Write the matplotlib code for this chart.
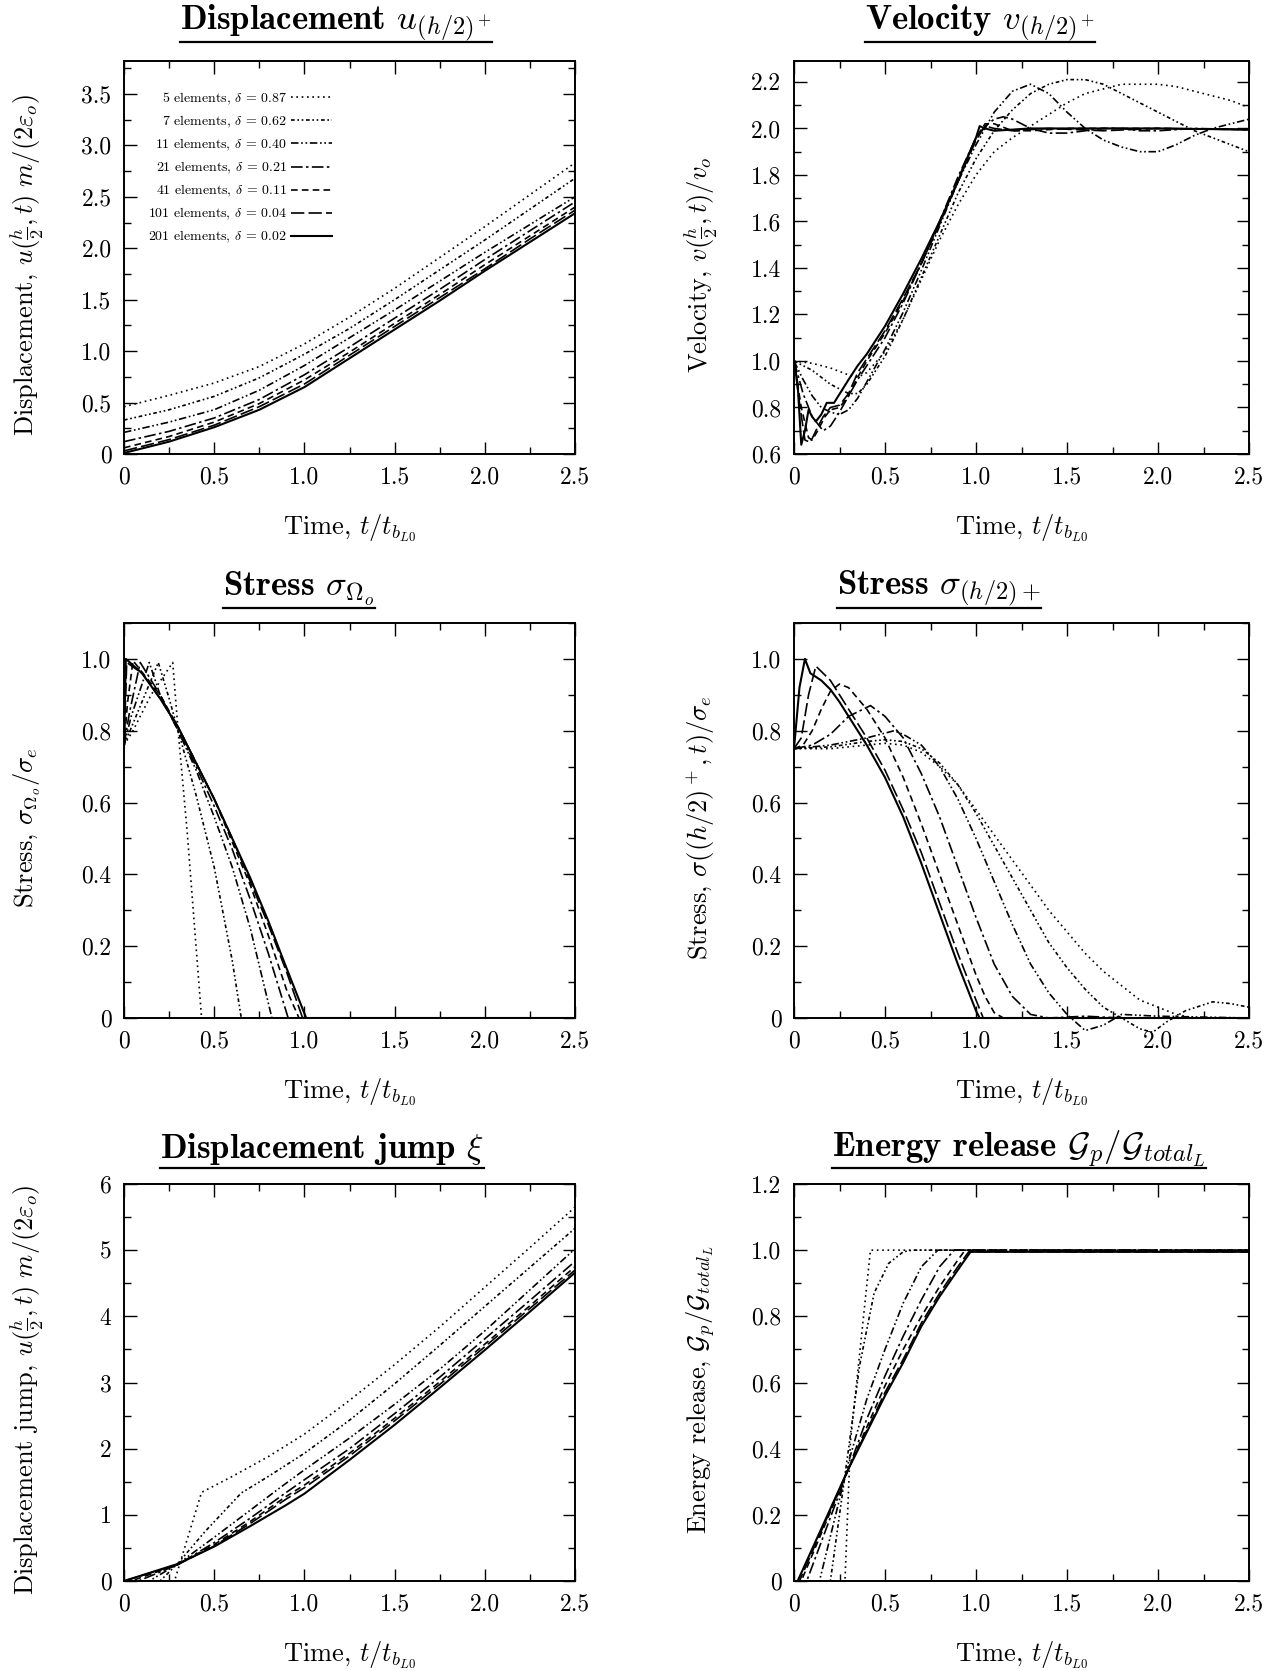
import matplotlib.pyplot as plt
from matplotlib.lines import Line2D
from matplotlib.ticker import MultipleLocator

plt.rcParams['font.family'] = 'cmr10'
plt.rcParams['mathtext.fontset'] = 'cm'
plt.rcParams['axes.formatter.use_mathtext'] = True

# legend entries (coarse -> fine mesh)
legend_labels = [r'5 elements, $\delta\,=\,0.87$', r'7 elements, $\delta\,=\,0.62$',
                 r'11 elements, $\delta\,=\,0.40$', r'21 elements, $\delta\,=\,0.21$',
                 r'41 elements, $\delta\,=\,0.11$', r'101 elements, $\delta\,=\,0.04$',
                 r'201 elements, $\delta\,=\,0.02$']

# ---- displacement u(h/2)+ ----
t_disp = [0, 0.25, 0.5, 0.75, 1.0, 1.25, 1.5, 1.75, 2.0, 2.25, 2.5]
disp_vals = [
    [0.46, 0.57, 0.69, 0.85, 1.07, 1.33, 1.61, 1.91, 2.21, 2.52, 2.83],
    [0.33, 0.43, 0.56, 0.74, 0.97, 1.22, 1.50, 1.79, 2.08, 2.38, 2.68],
    [0.21, 0.31, 0.43, 0.62, 0.86, 1.13, 1.40, 1.68, 1.96, 2.23, 2.50],
    [0.12, 0.22, 0.35, 0.53, 0.77, 1.04, 1.32, 1.60, 1.89, 2.17, 2.45],
    [0.06, 0.17, 0.31, 0.49, 0.72, 0.99, 1.27, 1.55, 1.84, 2.12, 2.40],
    [0.03, 0.14, 0.28, 0.46, 0.68, 0.96, 1.24, 1.52, 1.80, 2.09, 2.37],
    [0.01, 0.12, 0.26, 0.43, 0.65, 0.93, 1.21, 1.49, 1.78, 2.06, 2.34],
]

# ---- velocity v(h/2)+ ----
vel_t = [
    [0, 0.1, 0.2, 0.3, 0.35, 0.4, 0.5, 0.6, 0.7, 0.8, 0.9, 1.0, 1.1, 1.2, 1.3, 1.4, 1.5,
     1.6, 1.7, 1.8, 1.9, 2.0, 2.1, 2.2, 2.3, 2.4, 2.5],
    [0, 0.1, 0.2, 0.3, 0.35, 0.4, 0.5, 0.6, 0.7, 0.8, 0.9, 1.0, 1.1, 1.2, 1.3, 1.4, 1.5,
     1.6, 1.7, 1.8, 1.9, 2.0, 2.1, 2.2, 2.3, 2.4, 2.5],
    [0, 0.05, 0.1, 0.15, 0.2, 0.25, 0.3, 0.35, 0.4, 0.5, 0.6, 0.7, 0.8, 0.9, 1.0, 1.1,
     1.2, 1.3, 1.4, 1.5, 1.6, 1.7, 1.8, 1.9, 2.0, 2.1, 2.2, 2.3, 2.4, 2.5],
    [0, 0.05, 0.1, 0.16, 0.2, 0.25, 0.3, 0.35, 0.4, 0.5, 0.6, 0.7, 0.8, 0.9, 1.0, 1.05,
     1.1, 1.15, 1.2, 1.3, 1.4, 1.5, 1.6, 1.7, 1.8, 1.9, 2.0, 2.2, 2.5],
    [0, 0.04, 0.08, 0.1, 0.13, 0.17, 0.2, 0.25, 0.3, 0.35, 0.4, 0.5, 0.6, 0.7, 0.8, 0.9,
     1.0, 1.05, 1.1, 1.2, 1.3, 1.5, 1.7, 2.0, 2.5],
    [0, 0.03, 0.06, 0.09, 0.12, 0.16, 0.2, 0.25, 0.3, 0.35, 0.4, 0.5, 0.6, 0.7, 0.8, 0.9,
     0.95, 1.0, 1.05, 1.1, 1.2, 1.4, 1.7, 2.0, 2.5],
    [0, 0.02, 0.04, 0.06, 0.08, 0.1, 0.12, 0.15, 0.18, 0.22, 0.26, 0.3, 0.35, 0.4, 0.5,
     0.6, 0.7, 0.8, 0.9, 0.95, 1.0, 1.02, 1.05, 1.1, 1.3, 1.6, 2.0, 2.5],
]
vel_vals = [
    [1.0, 0.99, 0.97, 0.94, 0.93, 0.95, 1.04, 1.18, 1.35, 1.52, 1.67, 1.80, 1.90, 1.96,
     2.01, 2.06, 2.11, 2.15, 2.17, 2.19, 2.19, 2.19, 2.18, 2.16, 2.14, 2.12, 2.09],
    [1.0, 0.96, 0.90, 0.86, 0.86, 0.90, 1.02, 1.18, 1.36, 1.54, 1.72, 1.87, 1.99, 2.08,
     2.15, 2.19, 2.21, 2.21, 2.19, 2.15, 2.11, 2.07, 2.03, 1.99, 1.96, 1.93, 1.90],
    [1.0, 0.92, 0.85, 0.80, 0.78, 0.77, 0.79, 0.84, 0.91, 1.05, 1.21, 1.39, 1.58, 1.77,
     1.93, 2.07, 2.16, 2.19, 2.15, 2.07, 2.00, 1.95, 1.92, 1.90, 1.90, 1.93, 1.97, 2.00,
     2.02, 2.04],
    [1.0, 0.86, 0.76, 0.70, 0.72, 0.78, 0.85, 0.92, 0.98, 1.10, 1.25, 1.42, 1.60, 1.79,
     1.96, 2.01, 2.04, 2.05, 2.04, 2.00, 1.98, 1.98, 1.99, 2.0, 2.0, 1.99, 1.99, 2.0, 1.995],
    [1.0, 0.80, 0.67, 0.66, 0.70, 0.76, 0.79, 0.80, 0.85, 0.93, 1.0, 1.12, 1.26, 1.42,
     1.59, 1.78, 1.96, 2.02, 2.02, 1.99, 1.99, 2.0, 2.0, 2.0, 1.995],
    [1.0, 0.82, 0.66, 0.65, 0.70, 0.76, 0.80, 0.81, 0.86, 0.95, 1.01, 1.13, 1.27, 1.42,
     1.59, 1.77, 1.86, 1.95, 2.01, 2.0, 1.99, 2.0, 1.99, 2.0, 1.995],
    [1.0, 0.9, 0.64, 0.70, 0.79, 0.76, 0.74, 0.77, 0.82, 0.82, 0.87, 0.92, 0.98, 1.03,
     1.15, 1.29, 1.44, 1.60, 1.77, 1.87, 1.96, 2.01, 2.00, 1.99, 2.0, 2.0, 2.0, 1.995],
]

# ---- stress at Omega_o ----
so_t = [
    [0, 0.05, 0.15, 0.27, 0.30, 0.35, 0.43, 2.5],
    [0, 0.05, 0.19, 0.25, 0.3, 0.4, 0.5, 0.6, 0.65, 2.5],
    [0, 0.04, 0.14, 0.2, 0.3, 0.4, 0.5, 0.6, 0.7, 0.82, 2.5],
    [0, 0.03, 0.09, 0.2, 0.3, 0.4, 0.5, 0.6, 0.7, 0.8, 0.91, 2.5],
    [0, 0.02, 0.05, 0.2, 0.3, 0.4, 0.5, 0.6, 0.7, 0.8, 0.9, 0.97, 2.5],
    [0, 0.015, 0.1, 0.2, 0.3, 0.4, 0.5, 0.6, 0.7, 0.8, 0.9, 0.99, 2.5],
    [0, 0.01, 0.1, 0.2, 0.3, 0.4, 0.5, 0.6, 0.7, 0.8, 0.9, 1.01, 2.5],
]
so_vals = [
    [0.76, 0.80, 0.90, 0.99, 0.80, 0.52, 0.0, 0.0],
    [0.76, 0.82, 0.99, 0.89, 0.80, 0.62, 0.42, 0.16, 0.0, 0.0],
    [0.76, 0.84, 0.99, 0.90, 0.80, 0.69, 0.56, 0.42, 0.25, 0.0, 0.0],
    [0.76, 0.85, 0.99, 0.90, 0.80, 0.70, 0.59, 0.47, 0.33, 0.18, 0.0, 0.0],
    [0.76, 0.88, 0.995, 0.90, 0.81, 0.71, 0.61, 0.49, 0.37, 0.23, 0.08, 0.0, 0.0],
    [0.75, 0.99, 0.96, 0.89, 0.81, 0.71, 0.61, 0.50, 0.38, 0.26, 0.13, 0.0, 0.0],
    [0.75, 1.0, 0.96, 0.89, 0.81, 0.71, 0.61, 0.50, 0.39, 0.27, 0.14, 0.0, 0.0],
]

# ---- stress at (h/2)+ ----
sh_t = [
    [0, 0.2, 0.4, 0.5, 0.6, 0.7, 0.8, 0.9, 1.0, 1.1, 1.2, 1.3, 1.4, 1.5, 1.6, 1.7, 1.8,
     1.9, 2.0, 2.1, 2.2, 2.35, 2.5],
    [0, 0.2, 0.4, 0.5, 0.6, 0.7, 0.8, 0.9, 1.0, 1.1, 1.2, 1.3, 1.4, 1.5, 1.6, 1.7, 1.8,
     1.9, 1.97, 2.05, 2.15, 2.3, 2.4, 2.5],
    [0, 0.2, 0.4, 0.55, 0.6, 0.7, 0.8, 0.9, 1.0, 1.1, 1.2, 1.3, 1.4, 1.5, 1.6, 1.7, 1.8,
     2.0, 2.5],
    [0, 0.1, 0.2, 0.3, 0.42, 0.5, 0.6, 0.7, 0.8, 0.9, 1.0, 1.1, 1.2, 1.3, 1.4, 1.6, 1.8,
     2.5],
    [0, 0.05, 0.1, 0.15, 0.2, 0.25, 0.3, 0.4, 0.5, 0.6, 0.7, 0.8, 0.9, 1.0, 1.05, 1.1,
     1.15, 2.5],
    [0, 0.04, 0.08, 0.12, 0.16, 0.2, 0.25, 0.3, 0.4, 0.5, 0.6, 0.7, 0.8, 0.9, 1.0, 1.04,
     2.5],
    [0, 0.03, 0.06, 0.09, 0.12, 0.15, 0.2, 0.25, 0.3, 0.4, 0.5, 0.6, 0.7, 0.8, 0.9, 1.0,
     1.02, 2.5],
]
sh_vals = [
    [0.75, 0.75, 0.76, 0.765, 0.76, 0.74, 0.70, 0.65, 0.58, 0.51, 0.44, 0.37, 0.30, 0.24,
     0.18, 0.13, 0.09, 0.05, 0.03, 0.01, 0.0, 0.0, 0.0],
    [0.75, 0.755, 0.77, 0.775, 0.77, 0.75, 0.71, 0.65, 0.57, 0.48, 0.39, 0.30, 0.21, 0.14,
     0.08, 0.03, 0.0, -0.03, -0.04, -0.01, 0.02, 0.045, 0.04, 0.03],
    [0.75, 0.76, 0.78, 0.80, 0.79, 0.76, 0.70, 0.61, 0.50, 0.38, 0.26, 0.15, 0.07, 0.01,
     -0.035, -0.02, 0.01, 0.005, 0.0],
    [0.75, 0.76, 0.79, 0.84, 0.87, 0.84, 0.78, 0.68, 0.56, 0.42, 0.28, 0.15, 0.06, 0.01,
     0.0, 0.005, 0.0, 0.0],
    [0.75, 0.76, 0.80, 0.86, 0.91, 0.93, 0.92, 0.86, 0.78, 0.67, 0.54, 0.40, 0.26, 0.12,
     0.06, 0.015, 0.0, 0.0],
    [0.75, 0.78, 0.9, 0.98, 0.96, 0.94, 0.90, 0.86, 0.78, 0.69, 0.58, 0.46, 0.32, 0.18,
     0.05, 0.0, 0.0],
    [0.75, 0.92, 1.0, 0.96, 0.95, 0.94, 0.915, 0.88, 0.84, 0.76, 0.67, 0.56, 0.43, 0.29,
     0.15, 0.02, 0.0, 0.0],
]

# ---- displacement jump xi ----
xi_t = [
    [0, 0.28, 0.43, 0.6, 0.8, 1.0, 1.25, 1.5, 1.75, 2.0, 2.25, 2.5],
    [0, 0.2, 0.3, 0.45, 0.65, 0.8, 1.0, 1.25, 1.5, 1.75, 2.0, 2.25, 2.5],
    [0, 0.14, 0.3, 0.5, 0.7, 0.85, 1.0, 1.25, 1.5, 1.75, 2.0, 2.25, 2.5],
    [0, 0.08, 0.3, 0.5, 0.7, 0.9, 1.0, 1.25, 1.5, 1.75, 2.0, 2.25, 2.5],
    [0, 0.04, 0.3, 0.5, 0.7, 0.9, 1.0, 1.25, 1.5, 1.75, 2.0, 2.25, 2.5],
    [0, 0.3, 0.5, 0.7, 0.9, 1.0, 1.25, 1.5, 1.75, 2.0, 2.25, 2.5],
    [0, 0.3, 0.5, 0.7, 0.9, 1.0, 1.25, 1.5, 1.75, 2.0, 2.25, 2.5],
]
xi_vals = [
    [0, 0, 1.34, 1.58, 1.88, 2.22, 2.73, 3.27, 3.84, 4.44, 5.04, 5.65],
    [0, 0, 0.27, 0.75, 1.33, 1.58, 1.93, 2.43, 2.98, 3.56, 4.15, 4.74, 5.33],
    [0, 0, 0.26, 0.66, 1.07, 1.38, 1.68, 2.16, 2.67, 3.20, 3.78, 4.40, 5.02],
    [0, 0, 0.25, 0.58, 0.95, 1.34, 1.53, 2.00, 2.53, 3.08, 3.66, 4.24, 4.83],
    [0, 0, 0.25, 0.55, 0.90, 1.28, 1.45, 1.93, 2.46, 3.01, 3.58, 4.16, 4.75],
    [0, 0.25, 0.53, 0.87, 1.24, 1.41, 1.89, 2.42, 2.97, 3.54, 4.12, 4.70],
    [0, 0.26, 0.52, 0.83, 1.15, 1.32, 1.83, 2.36, 2.92, 3.49, 4.07, 4.66],
]

# ---- energy release G_p / G_total ----
en_t = [
    [0, 0.28, 0.31, 0.42, 2.5],
    [0, 0.2, 0.3, 0.36, 0.44, 0.52, 0.6, 0.65, 2.5],
    [0, 0.14, 0.3, 0.4, 0.5, 0.6, 0.7, 0.79, 2.5],
    [0, 0.07, 0.3, 0.4, 0.5, 0.6, 0.7, 0.8, 0.88, 2.5],
    [0, 0.04, 0.3, 0.5, 0.6, 0.7, 0.8, 0.9, 0.94, 2.5],
    [0, 0.03, 0.3, 0.5, 0.6, 0.7, 0.8, 0.9, 0.96, 2.5],
    [0, 0.02, 0.3, 0.5, 0.6, 0.7, 0.8, 0.9, 0.97, 2.5],
]
en_vals = [
    [0, 0, 0.42, 1.0, 1.0],
    [0, 0, 0.40, 0.65, 0.87, 0.96, 0.995, 1.0, 1.0],
    [0, 0, 0.36, 0.55, 0.70, 0.84, 0.95, 1.0, 1.0],
    [0, 0, 0.34, 0.49, 0.62, 0.74, 0.85, 0.95, 1.0, 1.0],
    [0, 0, 0.34, 0.59, 0.70, 0.80, 0.89, 0.97, 1.0, 1.0],
    [0, 0, 0.34, 0.57, 0.67, 0.78, 0.87, 0.95, 0.995, 0.995],
    [0, 0, 0.34, 0.56, 0.66, 0.77, 0.86, 0.94, 0.995, 0.995],
]

styles = [(0, (1, 2.2)), (0, (2.2, 1.6, 1, 1.6, 1, 1.6)), (0, (4.5, 1.6, 1, 1.6, 1, 1.6)),
          (0, (7, 2, 1.5, 2)), (0, (4, 2.5)), (0, (8, 2.5)), '-']
widths = [1.2, 1.2, 1.2, 1.2, 1.2, 1.2, 1.5]

W, H = 1272, 1671
fig = plt.figure(figsize=(W / 100, H / 100), dpi=100)

# axes boxes in pixels: left, top, right, bottom
boxes = [(124, 61, 575, 454), (794, 61, 1249, 454),
         (124, 623, 575, 1018), (794, 623, 1249, 1018),
         (124, 1184, 575, 1581), (794, 1184, 1249, 1581)]
axes = []
for l, t, r, b in boxes:
    axes.append(fig.add_axes([l / W, 1 - b / H, (r - l) / W, (b - t) / H]))

xlab = r'Time, $t/t_{b_{L0}}$'
ylabs = [r'Displacement, $u(\frac{h}{2},t)\ m/(2\varepsilon_o)$',
         r'Velocity, $v(\frac{h}{2},t)/v_o$',
         r'Stress, $\sigma_{\Omega_o}/\sigma_e$',
         r'Stress, $\sigma((h/2)^+,t)/\sigma_e$',
         r'Displacement jump, $u(\frac{h}{2},t)\ m/(2\varepsilon_o)$',
         r'Energy release, $\mathcal{G}_p/\mathcal{G}_{total_L}$']
titles = [r'Displacement $u_{(h/2)^+}$', r'Velocity $v_{(h/2)^+}$',
          r'Stress $\sigma_{\Omega_o}$', r'Stress $\sigma_{(h/2)+}$',
          r'Displacement jump $\xi$', r'Energy release $\mathcal{G}_p/\mathcal{G}_{total_L}$']
title_pos = [(336, 23), (980, 23), (299, 589), (939, 589), (322, 1149), (1019, 1149)]
ylims = [(0, 3.82), (0.6, 2.29), (0, 1.1), (0, 1.1), (0, 6), (0, 1.2)]
ymajor = [0.5, 0.2, 0.2, 0.2, 1, 0.2]
yminor = [0.25, 0.1, 0.1, 0.1, 0.5, 0.1]
yfmt = ['{:.1f}', '{:.1f}', '{:.1f}', '{:.1f}', '{:.0f}', '{:.1f}']

data = [(None, disp_vals), (vel_t, vel_vals), (so_t, so_vals),
        (sh_t, sh_vals), (xi_t, xi_vals), (en_t, en_vals)]

for i, ax in enumerate(axes):
    ts, vals = data[i]
    for k in range(7):
        tt = t_disp if ts is None else ts[k]
        ax.plot(tt, vals[k], color='black', linestyle=styles[k], lw=widths[k],
                label=legend_labels[k], clip_on=(i != 3))
    ax.set_xlim(0, 2.5)
    ax.set_ylim(*ylims[i])
    ax.xaxis.set_major_locator(MultipleLocator(0.5))
    ax.xaxis.set_minor_locator(MultipleLocator(0.25))
    ax.yaxis.set_major_locator(MultipleLocator(ymajor[i]))
    ax.yaxis.set_minor_locator(MultipleLocator(yminor[i]))
    ax.xaxis.set_major_formatter(lambda v, p: '0' if abs(v) < 1e-9 else '{:.1f}'.format(v))
    ax.yaxis.set_major_formatter(lambda v, p, f=yfmt[i]: '0' if abs(v) < 1e-9 else f.format(v))
    ax.tick_params(which='both', direction='in', top=True, right=True, labelsize=17,
                   width=1.0, pad=9)
    ax.tick_params(which='major', length=9)
    ax.tick_params(which='minor', length=5)
    for s in ax.spines.values():
        s.set_linewidth(1.4)
    l, t, r, b = boxes[i]
    ax.set_xlabel(xlab, fontsize=19, va='center')
    ax.xaxis.set_label_coords(0.5, -74 / (b - t))
    ax.set_ylabel(ylabs[i], fontsize=19, va='center')
    ax.yaxis.set_label_coords(-(97 if i % 2 == 0 else 93) / (r - l), 0.5 - 7 / (b - t))

axes[0].legend(loc='upper right', bbox_to_anchor=(0.462, 0.925), frameon=False,
               markerfirst=False, fontsize=10, handlelength=3.0, handletextpad=0.3,
               labelspacing=0.5, borderpad=0, borderaxespad=0)

title_texts = []
for (x, y), s in zip(title_pos, titles):
    title_texts.append(fig.text(x / W, 1 - y / H, s, ha='center', va='center',
                                fontsize=25, family='cmb10'))

# underline the titles
fig.canvas.draw()
for tx, (x, y) in zip(title_texts, title_pos):
    bb = tx.get_window_extent()
    yl = 1 - (y + 19) / H
    fig.add_artist(Line2D([bb.x0 / W, bb.x1 / W], [yl, yl], color='black', lw=1.6,
                          transform=fig.transFigure))

fig.savefig('out.png', dpi=100)
